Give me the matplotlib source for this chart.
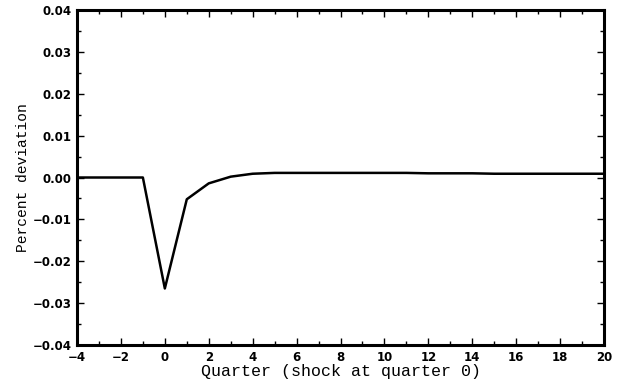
import numpy as np
import matplotlib
matplotlib.use("Agg")
import matplotlib.pyplot as plt
from matplotlib.ticker import MultipleLocator, FuncFormatter

# impulse response
quarters = [-4, -3, -2, -1, 0, 1, 2, 3, 4, 5, 6, 7, 8, 9, 10, 11, 12, 13, 14, 15, 16, 17, 18, 19, 20]
deviation = [0.0, 0.0, 0.0, 0.0, -0.0265, -0.0052, -0.0014, 0.0002, 0.0009, 0.0011,
             0.0011, 0.0011, 0.0011, 0.0011, 0.0011, 0.0011, 0.0010, 0.0010, 0.0010,
             0.0009, 0.0009, 0.0009, 0.0009, 0.0009, 0.0009]

fig = plt.figure(figsize=(6.23, 3.85), dpi=100)
ax = fig.add_axes([0.1236, 0.1039, 0.8459, 0.8701])

ax.plot(quarters, deviation, color="black", linewidth=1.8)

ax.set_xlim(-4, 20)
ax.set_ylim(-0.04, 0.04)
ax.xaxis.set_major_locator(MultipleLocator(2))
ax.xaxis.set_minor_locator(MultipleLocator(1))
ax.yaxis.set_major_locator(MultipleLocator(0.01))
ax.yaxis.set_minor_locator(MultipleLocator(0.005))
ax.yaxis.set_major_formatter(
    FuncFormatter(lambda v, pos: f"{v:.2f}".replace("-", "\u2212")))

ax.tick_params(which="both", direction="in", top=True, right=True,
               width=1.0, labelsize=8.5, pad=4)
ax.tick_params(which="major", length=5)
ax.tick_params(which="minor", length=3)
for lab in ax.get_xticklabels() + ax.get_yticklabels():
    lab.set_fontweight("bold")
for spine in ax.spines.values():
    spine.set_linewidth(2.2)

ax.set_xlabel("Quarter (shock at quarter 0)", family="Liberation Mono",
              fontsize=12, labelpad=0)
ax.set_ylabel("Percent deviation", family="Liberation Mono",
              fontsize=10.5)
ax.yaxis.set_label_coords(-0.089, 0.5)

fig.savefig("out.png", dpi=100)
